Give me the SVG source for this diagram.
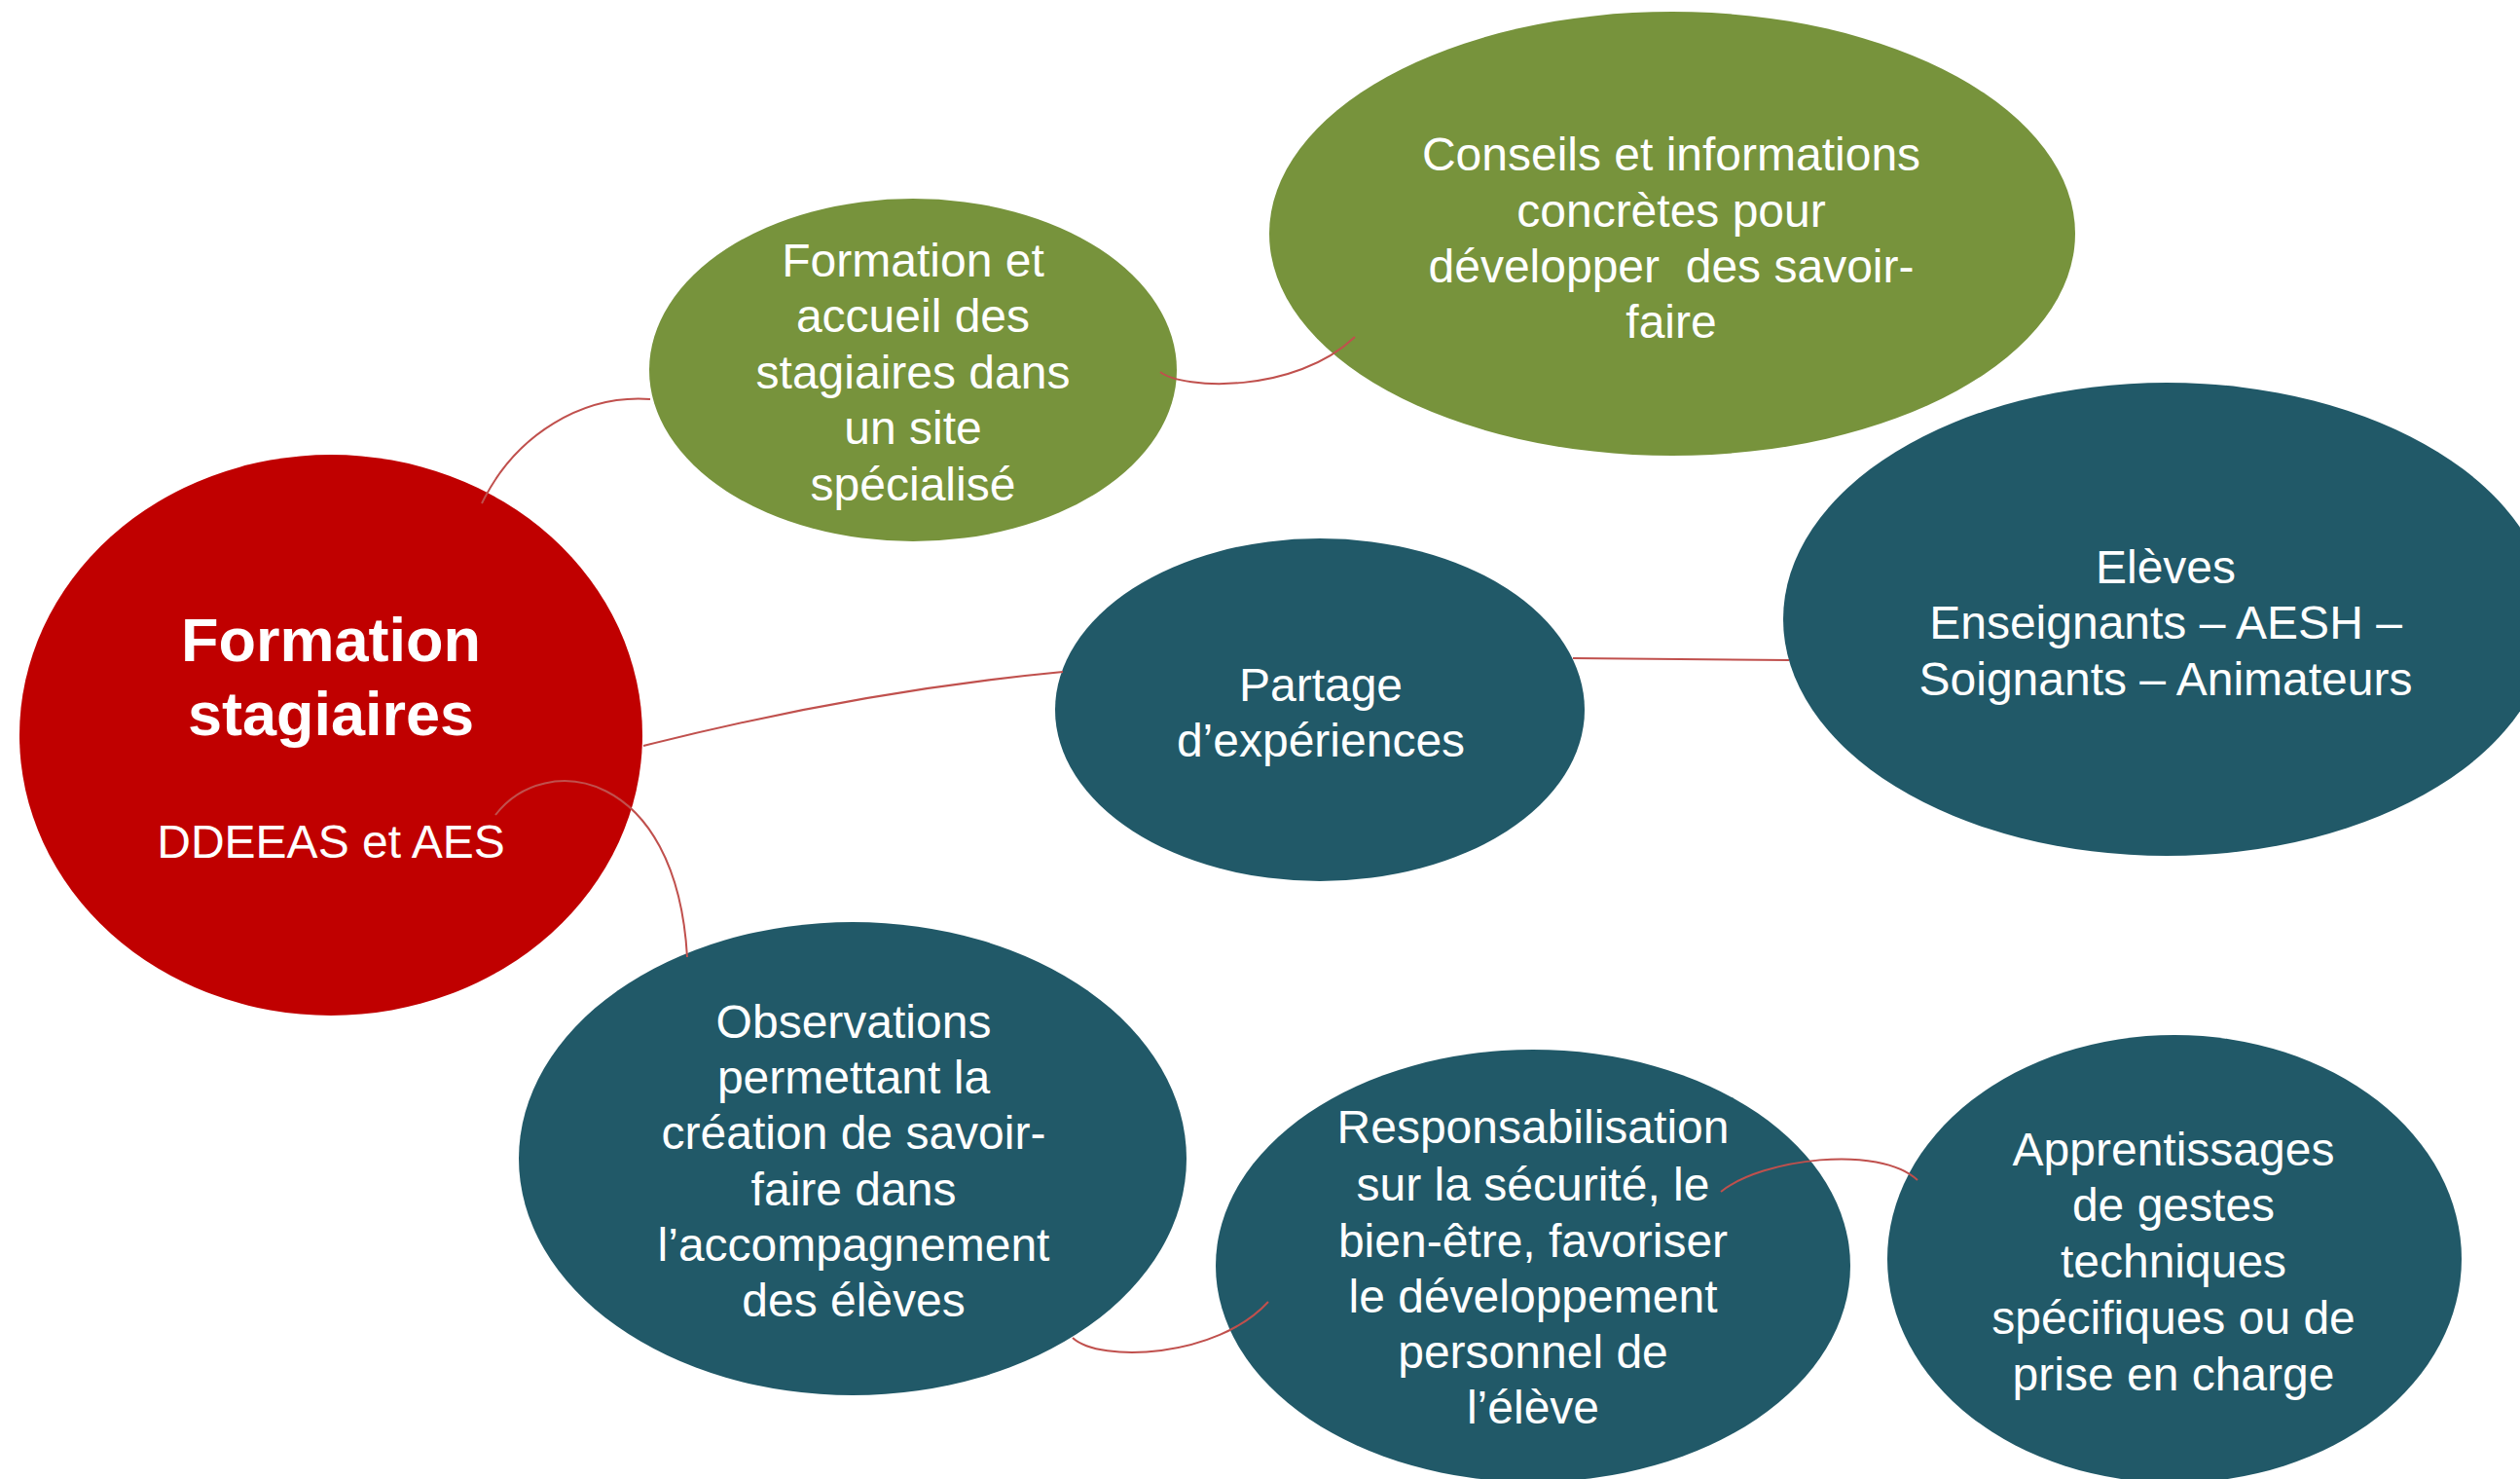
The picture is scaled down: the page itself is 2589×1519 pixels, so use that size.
<svg xmlns="http://www.w3.org/2000/svg" width="2589" height="1519" viewBox="0 0 2589 1519">
<style>
.t{font-family:"Liberation Sans",Arial,sans-serif;font-size:48px;fill:#FFFFFF;text-anchor:middle}
.b{font-weight:bold;font-size:63px}
.red{fill:#C00000}
.green{fill:#77933C}
.teal{fill:#215968}
.c{fill:none;stroke:#C0504D;stroke-width:2}
</style>
<rect width="2589" height="1519" fill="#FFFFFF"/>
<g id="n-formation-stagiaires">
<ellipse class="red" cx="340" cy="755" rx="320" ry="288"/>
<text class="t b" x="340" y="679">Formation</text>
<text class="t b" x="340" y="755">stagiaires</text>
<text class="t" x="340" y="881">DDEEAS et AES</text>
</g>
<g id="n-accueil">
<ellipse class="green" cx="938" cy="380" rx="271" ry="176"/>
<text class="t" x="938" y="284">Formation et</text>
<text class="t" x="938" y="341">accueil des</text>
<text class="t" x="938" y="399">stagiaires dans</text>
<text class="t" x="938" y="456">un site</text>
<text class="t" x="938" y="514">spécialisé</text>
</g>
<g id="n-conseils">
<ellipse class="green" cx="1718" cy="240" rx="414" ry="228"/>
<text class="t" x="1717" y="175">Conseils et informations</text>
<text class="t" x="1717" y="233">concrètes pour</text>
<text class="t" x="1717" y="290" style="white-space:pre">développer  des savoir-</text>
<text class="t" x="1717" y="347">faire</text>
</g>
<g id="n-partage">
<ellipse class="teal" cx="1356" cy="729" rx="272" ry="176"/>
<text class="t" x="1357" y="720">Partage</text>
<text class="t" x="1357" y="777">d’expériences</text>
</g>
<g id="n-eleves">
<ellipse class="teal" cx="2226" cy="636" rx="394" ry="243"/>
<text class="t" x="2225" y="599">Elèves</text>
<text class="t" x="2225" y="656">Enseignants – AESH –</text>
<text class="t" x="2225" y="714">Soignants – Animateurs</text>
</g>
<g id="n-observations">
<ellipse class="teal" cx="876" cy="1190" rx="343" ry="243"/>
<text class="t" x="877" y="1066">Observations</text>
<text class="t" x="877" y="1123">permettant la</text>
<text class="t" x="877" y="1180">création de savoir-</text>
<text class="t" x="877" y="1238">faire dans</text>
<text class="t" x="877" y="1295">l’accompagnement</text>
<text class="t" x="877" y="1352">des élèves</text>
</g>
<g id="n-responsabilisation">
<ellipse class="teal" cx="1575" cy="1300" rx="326" ry="222"/>
<text class="t" x="1575" y="1174">Responsabilisation</text>
<text class="t" x="1575" y="1233">sur la sécurité, le</text>
<text class="t" x="1575" y="1291">bien-être, favoriser</text>
<text class="t" x="1575" y="1348">le développement</text>
<text class="t" x="1575" y="1405">personnel de</text>
<text class="t" x="1575" y="1462">l’élève</text>
</g>
<g id="n-apprentissages">
<ellipse class="teal" cx="2234" cy="1293" rx="295" ry="230"/>
<text class="t" x="2233" y="1197">Apprentissages</text>
<text class="t" x="2233" y="1254">de gestes</text>
<text class="t" x="2233" y="1312">techniques</text>
<text class="t" x="2233" y="1370">spécifiques ou de</text>
<text class="t" x="2233" y="1428">prise en charge</text>
</g>
<g id="connectors">
<path class="c" d="M495,517 C530,445 600,405 668,410"/>
<path class="c" d="M661,766 Q882,710 1092,690"/>
<path class="c" d="M1616,676 L1838,678"/>
<path class="c" d="M1192,382 C1215,400 1330,405 1392,346"/>
<path class="c" d="M509,837 C560,770 695,790 706,983"/>
<path class="c" d="M1102,1374 C1130,1400 1250,1395 1303,1337"/>
<path class="c" d="M1768,1224 C1810,1190 1930,1175 1970,1212"/>
</g>
</svg>
